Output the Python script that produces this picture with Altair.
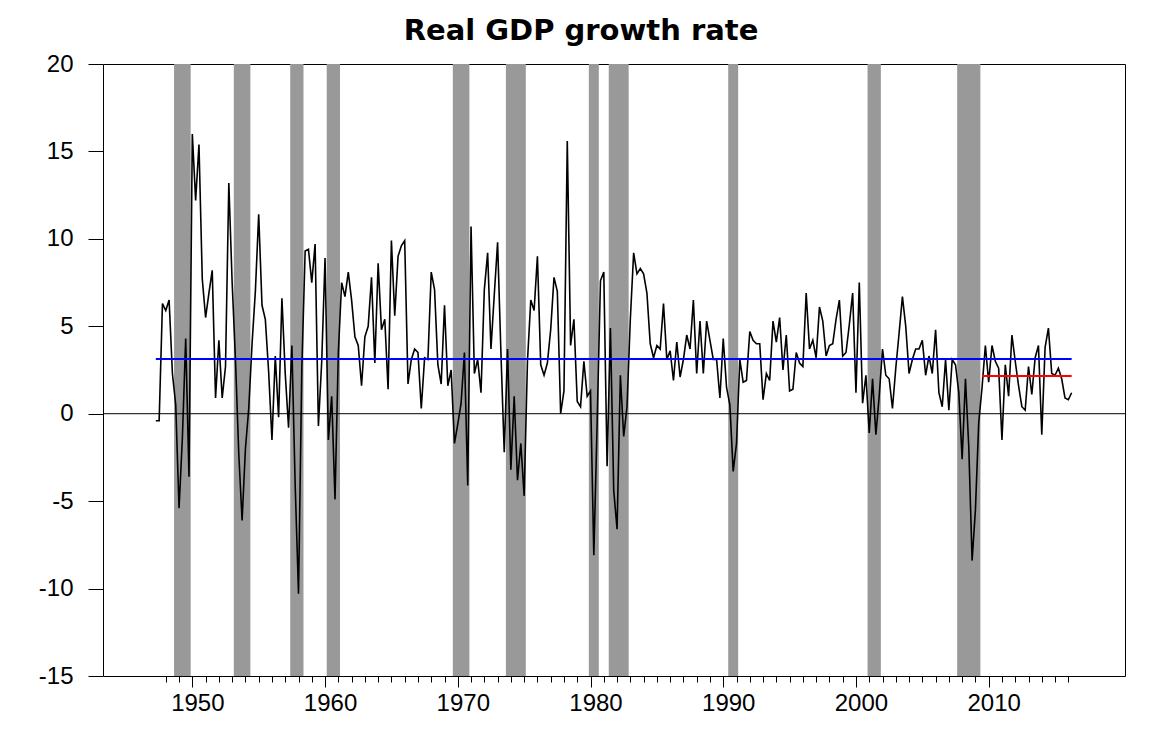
import altair as alt
import pandas as pd

# Quarterly real GDP growth (annualized %), first value = 1947Q2
growth_by_year = {
    1947: [-0.4, -0.4, 6.3],
    1948: [5.9, 6.5, 2.3, 0.5],
    1949: [-5.4, -1.4, 4.3, -3.6],
    1950: [16.0, 12.2, 15.4, 7.7],
    1951: [5.5, 6.9, 8.2, 0.9],
    1952: [4.2, 0.9, 2.7, 13.2],
    1953: [7.5, 3.1, -2.3, -6.1],
    1954: [-2.0, 0.3, 4.0, 7.0],
    1955: [11.4, 6.2, 5.4, 2.4],
    1956: [-1.5, 3.3, -0.2, 6.6],
    1957: [2.3, -0.8, 3.9, -4.1],
    1958: [-10.3, 2.6, 9.3, 9.4],
    1959: [7.5, 9.7, -0.7, 3.0],
    1960: [8.9, -1.5, 1.0, -4.9],
    1961: [3.5, 7.5, 6.7, 8.1],
    1962: [6.5, 4.4, 3.9, 1.6],
    1963: [4.4, 5.0, 7.8, 2.9],
    1964: [8.6, 4.8, 5.4, 1.4],
    1965: [9.9, 5.6, 9.0, 9.6],
    1966: [9.9, 1.7, 3.1, 3.7],
    1967: [3.5, 0.3, 3.2, 3.1],
    1968: [8.1, 7.1, 2.8, 1.7],
    1969: [6.2, 1.6, 2.5, -1.7],
    1970: [-0.6, 0.6, 3.5, -4.1],
    1971: [10.7, 2.3, 3.1, 1.2],
    1972: [7.1, 9.2, 3.7, 6.8],
    1973: [9.8, 3.5, -2.2, 3.7],
    1974: [-3.2, 1.0, -3.8, -1.7],
    1975: [-4.7, 3.0, 6.5, 5.9],
    1976: [9.0, 2.8, 2.2, 2.9],
    1977: [4.8, 7.8, 7.0, 0.0],
    1978: [1.3, 15.6, 3.9, 5.4],
    1979: [0.7, 0.4, 3.0, 1.0],
    1980: [1.3, -8.1, -0.5, 7.6],
    1981: [8.1, -3.0, 4.9, -4.4],
    1982: [-6.6, 2.2, -1.3, 0.4],
    1983: [5.4, 9.2, 8.0, 8.3],
    1984: [8.0, 6.9, 4.0, 3.2],
    1985: [3.9, 3.7, 6.3, 3.1],
    1986: [3.6, 1.9, 4.1, 2.1],
    1987: [3.1, 4.5, 3.7, 6.5],
    1988: [2.3, 5.3, 2.3, 5.3],
    1989: [4.2, 3.1, 3.1, 0.9],
    1990: [4.3, 1.5, 0.5, -3.3],
    1991: [-1.7, 3.1, 1.8, 1.9],
    1992: [4.7, 4.2, 4.0, 4.0],
    1993: [0.8, 2.3, 1.9, 5.3],
    1994: [4.1, 5.5, 2.5, 4.5],
    1995: [1.3, 1.4, 3.5, 2.9],
    1996: [2.7, 6.9, 3.7, 4.2],
    1997: [3.2, 6.1, 5.3, 3.3],
    1998: [3.9, 4.0, 5.4, 6.5],
    1999: [3.3, 3.5, 5.1, 6.9],
    2000: [1.2, 7.5, 0.6, 2.2],
    2001: [-1.1, 2.0, -1.2, 1.0],
    2002: [3.7, 2.2, 2.0, 0.3],
    2003: [2.6, 4.6, 6.7, 5.0],
    2004: [2.3, 3.1, 3.7, 3.7],
    2005: [4.2, 2.2, 3.3, 2.3],
    2006: [4.8, 1.2, 0.4, 3.1],
    2007: [0.2, 3.1, 2.8, 1.2],
    2008: [-2.6, 2.0, -1.9, -8.4],
    2009: [-5.5, -0.5, 1.5, 3.9],
    2010: [1.8, 3.9, 3.0, 2.6],
    2011: [-1.5, 2.8, 1.0, 4.5],
    2012: [3.0, 1.6, 0.4, 0.2],
    2013: [2.7, 1.1, 3.2, 3.9],
    2014: [-1.2, 3.8, 4.9, 2.3],
    2015: [2.2, 2.6, 2.0, 0.9],
    2016: [0.8, 1.2],
}

# NBER recessions (bar start / end, decimal years)
rec_start = [1948.625, 1953.125, 1957.375, 1960.125, 1969.625, 1973.625,
             1979.875, 1981.375, 1990.375, 2000.875, 2007.625]
rec_end = [1949.875, 1954.375, 1958.375, 1961.125, 1970.875, 1975.125,
           1980.625, 1982.875, 1991.125, 2001.875, 2009.375]

avg_all = 3.13          # full-sample average
avg_post = 2.15         # post-2009 average
avg_all_span = [1947.25, 2016.25]
avg_post_span = [2009.5, 2016.25]

major_years = [1950, 1960, 1970, 1980, 1990, 2000, 2010]
minor_years = list(range(1948, 2017))
y_ticks = [-15, -10, -5, 0, 5, 10, 15, 20]
title_text = ["Real GDP growth rate"]

rows = []
for yr, vals in growth_by_year.items():
    q0 = 1 if yr == 1947 else 0
    for k, v in enumerate(vals):
        rows.append({"date": yr + (q0 + k) / 4.0, "growth": v})
df = pd.DataFrame(rows)
rec_df = pd.DataFrame({"start": rec_start, "end": rec_end})
zero_df = pd.DataFrame({"v": [0]})
blue_df = pd.DataFrame({"date": avg_all_span, "v": [avg_all, avg_all]})
red_df = pd.DataFrame({"date": avg_post_span, "v": [avg_post, avg_post]})
title_df = pd.DataFrame({"t": title_text})

W, H = 1022, 612
xscale = alt.Scale(domain=[1943.27, 2020.27], nice=False, zero=False)
yscale = alt.Scale(domain=[-15, 20], nice=False, zero=False)

major_axis = alt.Axis(values=major_years, tickSize=11, labelPadding=4,
                      labelOffset=5, labelExpr="'' + datum.value",
                      title=None, grid=False, domain=False, orient="bottom",
                      labelOverlap=False, tickColor="black", tickWidth=1)
minor_axis = alt.Axis(values=minor_years, tickSize=6, labels=False,
                      title=None, grid=False, domain=False, orient="bottom",
                      tickColor="black", tickWidth=1)
y_axis = alt.Axis(values=y_ticks, tickSize=15, labelPadding=15,
                  labelExpr="'' + datum.value", title=None, grid=False,
                  labelOverlap=False, domain=False, tickColor="black",
                  tickWidth=1)

bars = alt.Chart(rec_df).mark_rect(color="#999999").encode(
    x=alt.X("start:Q", scale=xscale, axis=major_axis),
    x2="end:Q",
    y=alt.value(0),
    y2=alt.value(H),
)

line = alt.Chart(df).mark_line(color="black", strokeWidth=1.6).encode(
    x=alt.X("date:Q", scale=xscale, axis=minor_axis),
    y=alt.Y("growth:Q", scale=yscale, axis=y_axis),
)

zero = alt.Chart(zero_df).mark_rule(color="black", strokeWidth=1).encode(
    y=alt.Y("v:Q", scale=yscale, axis=y_axis),
)

blue = alt.Chart(blue_df).mark_line(color="#0000FF", strokeWidth=2).encode(
    x=alt.X("date:Q", scale=xscale, axis=None),
    y=alt.Y("v:Q", scale=yscale, axis=y_axis),
)

red = alt.Chart(red_df).mark_line(color="#FF0000", strokeWidth=2).encode(
    x=alt.X("date:Q", scale=xscale, axis=None),
    y=alt.Y("v:Q", scale=yscale, axis=y_axis),
)

title = alt.Chart(title_df).mark_text(
    font="DejaVu Sans", fontSize=29, fontWeight="bold", color="black",
    align="center", baseline="alphabetic",
).encode(
    text="t:N",
    x=alt.value(W / 2 - 33),
    y=alt.value(-24),
)

chart = alt.layer(bars, line, zero, blue, red, title).resolve_axis(
    x="independent"
).properties(
    width=W,
    height=H,
    background="white",
    autosize=alt.AutoSizeParams(type="none"),
    padding={"left": 95, "top": 56, "right": 24, "bottom": 48},
).configure_view(
    stroke="black", strokeWidth=1
).configure_axis(
    labelFont="Liberation Sans", labelFontSize=24, labelColor="black"
)

chart.save("out.html", embed_options={"renderer": "svg", "actions": False})
